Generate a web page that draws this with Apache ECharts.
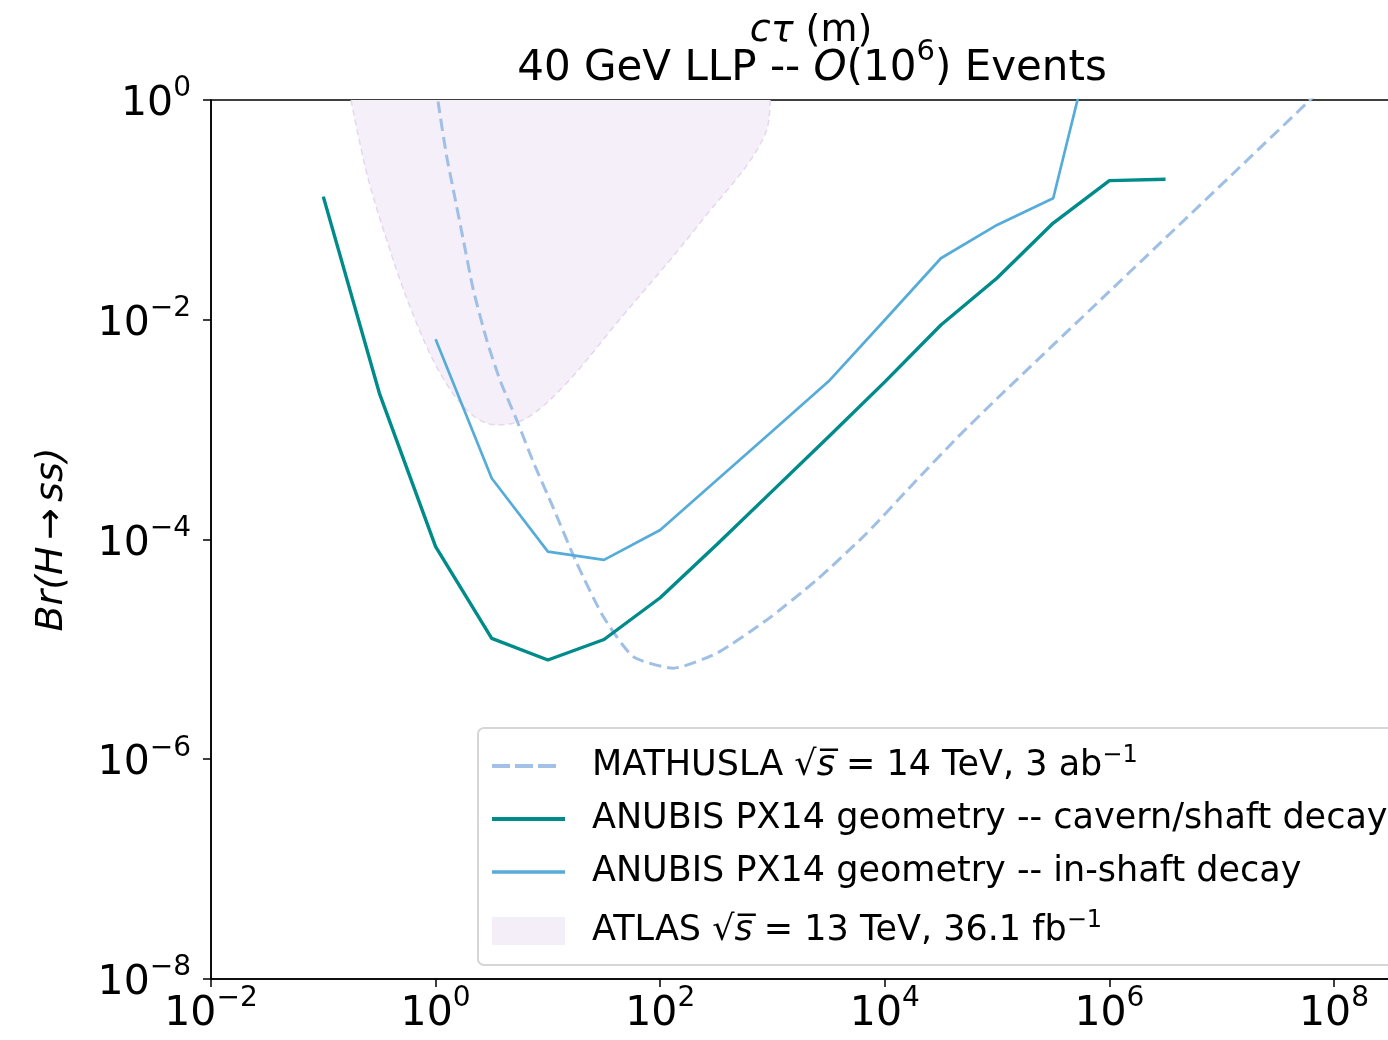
<!DOCTYPE html>
<html><head><meta charset="utf-8">
<script src="https://cdn.jsdelivr.net/npm/echarts@6/dist/echarts.min.js"></script>
<style>html,body{margin:0;padding:0;background:#fff;overflow:hidden}#c{width:1388px;height:1040px}</style>
</head><body><div id="c"></div><script>
// ---- data ----
const mathuslaX = [0.92, 1.057, 1.256, 1.439, 1.766, 2.168, 2.851, 3.741, 5.272, 7.41, 11.17, 18.03, 31.12, 57.54, 130.9, 318.4, 887.2, 2477, 6902, 19230, 45080, 1.0e5, 1.0e6, 5.9e7, 3.0e8];
const mathuslaY = [3, 0.94, 0.305, 0.152, 0.0532, 0.0187, 0.00655, 0.00283, 0.001225, 5.08e-4, 1.94e-4, 6.12e-5, 1.99e-5, 8.59e-6, 6.75e-6, 9.23e-6, 1.85e-5, 4.29e-5, 1.14e-4, 3.48e-4, 8.63e-4, 1.92e-3, 0.0181, 0.966, 5.0];
const cavernX = [0.1, 0.316, 1, 3.16, 10, 31.6, 100, 316, 1000, 3160, 10000, 31600, 100000, 316000, 1000000, 3160000];
const cavernY = [0.132, 0.00214, 8.6e-5, 1.26e-5, 8.0e-6, 1.23e-5, 2.95e-5, 8.9e-5, 2.77e-4, 8.6e-4, 2.72e-3, 8.97e-3, 0.024, 0.0759, 0.1845, 0.19];
const shaftX = [1, 3.16, 10, 31.6, 100, 316, 1000, 3160, 10000, 31600, 100000, 316000, 1000000];
const shaftY = [6.65e-3, 3.61e-4, 7.76e-5, 6.52e-5, 1.22e-4, 3.45e-4, 9.73e-4, 2.75e-3, 9.95e-3, 0.0363, 0.0729, 0.1276, 15];
const atlasX = [0.1766, 0.2438, 0.367, 0.5916, 1.094, 2.023, 3.50, 6.47, 14.69, 41.0, 226, 887, 951];
const atlasY = [1.0, 0.2153, 0.0532, 0.01315, 0.00328, 0.00142, 0.001104, 0.001276, 0.00266, 0.00935, 0.076, 0.533, 1.0];
const seriesNames = ['MATHUSLA', 'ANUBIS cavern', 'ANUBIS shaft', 'ATLAS'];
const legendLabels = {
  'MATHUSLA': 'MATHUSLA \u221A{i|s\u0305} = 14 TeV, 3 ab{sup|\u22121}',
  'ANUBIS cavern': 'ANUBIS PX14 geometry -- cavern/shaft decay',
  'ANUBIS shaft': 'ANUBIS PX14 geometry -- in-shaft decay',
  'ATLAS': 'ATLAS \u221A{i|s\u0305} = 13 TeV, 36.1 fb{sup|\u22121}'
};
const titleText = '{t|40 GeV LLP -- }{i|O}{t|(10}{sup|6}{t|) Events}';
const xLabelText = '{i|c\u03C4}{t| (m)}';
const yLabelText = 'Br(H\u2006\u2192\u2006ss)';
const xRange = [0.01, 1e10];
const yRange = [1e-8, 1];

const FONT = 'DejaVu Sans';
const zip = (a, b) => a.map((v, i) => [v, b[i]]);
function powLabel(v) {
  const e = Math.round(Math.log10(v));
  return '{b|10}{s|' + (e < 0 ? '\u2212' + (-e) : String(e)) + '}';
}
const tickRich = {
  b: {fontSize: 41, fontFamily: FONT, color: '#000', lineHeight: 50, verticalAlign: 'bottom'},
  s: {fontSize: 28, fontFamily: FONT, color: '#000', lineHeight: 28, verticalAlign: 'top'}
};
// legend handles (73 x 28 box; tiny corner triangles fix the bounding box)
const corners = 'M0,0L0.01,0L0,0.01Z M73,28L72.99,28L73,27.99Z ';
const solidIcon = w => 'path://' + corners + 'M0,' + (14 - w / 2) + 'h73v' + w + 'h-73Z';
const dashIcon = 'path://' + corners + 'M0,12h18v4h-18Z M23,12h18v4h-18Z M46,12h18v4h-18Z';
const legendRich = {
  i: {fontSize: 35, fontFamily: FONT, fontStyle: 'italic', color: '#000', lineHeight: 44},
  sup: {fontSize: 24, fontFamily: FONT, color: '#000', lineHeight: 24, verticalAlign: 'top'}
};
const legendRichTall = {
  i: {fontSize: 35, fontFamily: FONT, fontStyle: 'italic', color: '#000', lineHeight: 56},
  sup: {fontSize: 24, fontFamily: FONT, color: '#000', lineHeight: 24, verticalAlign: 'top', padding: [6, 0, 0, 0]}
};

const chart = echarts.init(document.getElementById('c'), null, {renderer: 'canvas'});
chart.setOption({
  animation: false,
  backgroundColor: '#fff',
  grid: {left: 211, top: 100, width: 1347.6, height: 879, outerBoundsMode: 'none', containLabel: false,
    show: true, borderColor: '#000', borderWidth: 1.5, backgroundColor: 'transparent'},
  xAxis: {
    type: 'log', logBase: 100, min: xRange[0], max: xRange[1],
    axisLine: {lineStyle: {color: '#000', width: 1.5}},
    axisTick: {length: 8, lineStyle: {color: '#000', width: 1.5}},
    minorTick: {show: false},
    splitLine: {show: false},
    axisLabel: {formatter: powLabel, rich: tickRich, margin: 6, color: '#000'}
  },
  yAxis: {
    type: 'log', logBase: 100, min: yRange[0], max: yRange[1],
    name: yLabelText, nameLocation: 'middle', nameGap: 140,
    nameTextStyle: {fontSize: 38, fontStyle: 'italic', fontFamily: FONT, color: '#000'},
    axisLine: {lineStyle: {color: '#000', width: 1.5}},
    axisTick: {length: 8, lineStyle: {color: '#000', width: 1.5}},
    minorTick: {show: false},
    splitLine: {show: false},
    axisLabel: {formatter: powLabel, rich: tickRich, margin: 20, color: '#000'}
  },
  legend: {
    orient: 'vertical', left: 478, top: 728,
    padding: [16, 900, 6, 14],
    backgroundColor: 'rgba(255,255,255,0.85)', borderColor: '#d6d6d6', borderWidth: 2, borderRadius: 6,
    itemWidth: 73, itemHeight: 28, itemGap: 9,
    data: [
      {name: seriesNames[0], icon: dashIcon, itemStyle: {color: '#a3c1e6'}},
      {name: seriesNames[1], icon: solidIcon(4), itemStyle: {color: '#008b8b'}},
      {name: seriesNames[2], icon: solidIcon(3.5), itemStyle: {color: '#56acd8'}},
      {name: seriesNames[3], icon: 'rect', itemStyle: {color: '#f3eef8', borderWidth: 0},
        textStyle: {lineHeight: 56, rich: legendRichTall}}
    ],
    formatter: n => legendLabels[n],
    textStyle: {
      fontSize: 35, fontFamily: FONT, color: '#000', lineHeight: 44, padding: [0, 0, 0, 22],
      rich: legendRich
    }
  },
  graphic: [
    {type: 'text', x: 812, y: 64, style: {text: titleText, fontSize: 42, fontFamily: FONT, fill: '#000', align: 'center', verticalAlign: 'middle',
      rich: {
        t: {fontSize: 42, fontFamily: FONT, lineHeight: 52, verticalAlign: 'bottom'},
        i: {fontSize: 42, fontStyle: 'italic', fontFamily: FONT, lineHeight: 52, verticalAlign: 'bottom'},
        sup: {fontSize: 29, fontFamily: FONT, verticalAlign: 'top', lineHeight: 29}
      }}},
    {type: 'text', x: 811, y: 31, style: {text: xLabelText, fontSize: 38, fontFamily: FONT, fill: '#000', align: 'center', verticalAlign: 'middle',
      rich: {
        t: {fontSize: 38, fontFamily: FONT, lineHeight: 46},
        i: {fontSize: 38, fontStyle: 'italic', fontFamily: FONT, lineHeight: 46}
      }}}
  ],
  series: [
    {name: seriesNames[0], type: 'line', data: zip(mathuslaX, mathuslaY), symbol: 'none', smooth: 0.2, z: 3,
      lineStyle: {color: '#9fbfe5', width: 3, type: [12, 6]}, itemStyle: {color: '#9fbfe5'}},
    {name: seriesNames[1], type: 'line', data: zip(cavernX, cavernY), symbol: 'none', z: 4,
      lineStyle: {color: '#008b8b', width: 3.4}, itemStyle: {color: '#008b8b'}},
    {name: seriesNames[2], type: 'line', data: zip(shaftX, shaftY), symbol: 'none', z: 4,
      lineStyle: {color: '#56acd8', width: 2.7}, itemStyle: {color: '#56acd8'}},
    {name: seriesNames[3], type: 'line', data: zip(atlasX, atlasY), symbol: 'none', smooth: 0.35, z: 1,
      lineStyle: {color: '#e6d6ee', width: 1.5, type: [6, 4]}, itemStyle: {color: '#f3eef8'},
      areaStyle: {color: '#f4eff8', opacity: 1, origin: 'end'}}
  ]
});
</script></body></html>
